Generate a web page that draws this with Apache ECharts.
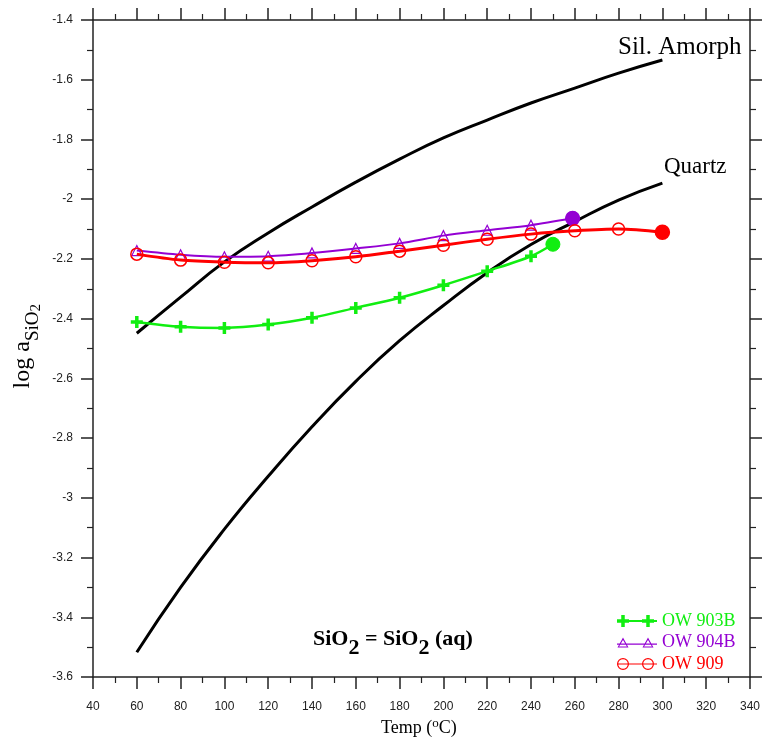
<!DOCTYPE html>
<html><head><meta charset="utf-8">
<script src="https://cdn.jsdelivr.net/npm/echarts@6/dist/echarts.min.js"></script>
<style>html,body{margin:0;padding:0;background:#fff}#c{width:763px;height:738px}</style>
</head><body><div id="c"></div>
<script>
// ---- data ----
var curveTemps = [60, 80, 100, 120, 140, 160, 180, 200, 220, 240, 260, 280, 300];
var silAmorph = [-2.449, -2.328, -2.210, -2.113, -2.026, -1.943, -1.866, -1.795, -1.735, -1.678, -1.628, -1.578, -1.534];
var quartz = [-3.517, -3.300, -3.105, -2.928, -2.762, -2.610, -2.474, -2.356, -2.246, -2.152, -2.075, -2.003, -1.946];

var tempsA = [60, 80, 100, 120, 140, 160, 180, 200, 220, 240];
var ow903b = [-2.411, -2.427, -2.431, -2.420, -2.397, -2.364, -2.330, -2.288, -2.241, -2.191];
var ow903bEnd = [250, -2.151];

var ow904b = [-2.172, -2.186, -2.193, -2.191, -2.180, -2.165, -2.148, -2.122, -2.104, -2.087];
var ow904bEnd = [259, -2.064];

var tempsC = [60, 80, 100, 120, 140, 160, 180, 200, 220, 240, 260, 280];
var ow909 = [-2.184, -2.204, -2.211, -2.213, -2.206, -2.193, -2.174, -2.154, -2.134, -2.117, -2.106, -2.100];
var ow909End = [300, -2.111];

var seriesNames = ['OW 903B', 'OW 904B', 'OW 909'];
var xTicks = {min: 40, max: 340, interval: 20};
var yTicks = {min: -3.6, max: -1.4, interval: 0.2};

// ---- build ----
function pairs(xs, ys) { return xs.map(function (x, i) { return [x, ys[i]]; }); }
function withEnd(xs, ys, end, color) {
  var d = pairs(xs, ys);
  d.push({value: end, symbol: 'circle', symbolSize: 14, itemStyle: {color: color, borderColor: color}});
  return d;
}
var serif = 'Liberation Serif, Times New Roman, serif';
var sans = 'Liberation Sans, Arial, sans-serif';
var green = '#11ee11', purple = '#9400d3', red = '#ff0000';
var clear = 'rgba(255,255,255,0)';
var plusPath = 'path://M4.25,0H7.75V4.25H12V7.75H7.75V12H4.25V7.75H0V4.25H4.25Z';

// legend icons: line with two markers (40 px wide)
function plusAt(cx) {
  return 'M' + (cx - 1.75) + ',0H' + (cx + 1.75) + 'V4.25H' + (cx + 6) + 'V7.75H' + (cx + 1.75) + 'V12H' + (cx - 1.75) + 'V7.75H' + (cx - 6) + 'V4.25H' + (cx - 1.75) + 'Z';
}
function triAt(cx) {
  return 'M' + cx + ',0L' + (cx + 5.5) + ',10L' + (cx - 5.5) + ',10Z' +
         'M' + cx + ',2.4L' + (cx - 3.9) + ',9L' + (cx + 3.9) + ',9Z';
}
function circAt(cx) {
  return 'M' + (cx - 6) + ',6A6,6 0 1,1 ' + (cx + 6) + ',6A6,6 0 1,1 ' + (cx - 6) + ',6Z' +
         'M' + (cx - 4.8) + ',6A4.8,4.8 0 1,0 ' + (cx + 4.8) + ',6A4.8,4.8 0 1,0 ' + (cx - 4.8) + ',6Z';
}
var iconPlus = 'path://M0,5H40V7H0Z' + plusAt(6) + plusAt(31);
var iconTri = 'path://M0,6H40V7.2H0Z' + triAt(6) + triAt(31);
var iconCirc = 'path://M0,5.4H40V6.6H0Z' + circAt(6) + circAt(31);

var axisLine = {show: true, lineStyle: {color: '#222', width: 1.5}};
function xAx(pos, labels) {
  return {
    type: 'value', position: pos, min: xTicks.min, max: xTicks.max, interval: xTicks.interval,
    axisLine: axisLine,
    axisTick: {show: true, inside: false, length: 12, lineStyle: {color: '#222', width: 1.5}},
    minorTick: {show: true, splitNumber: 2, length: 6, lineStyle: {color: '#222', width: 1.2}},
    axisLabel: {show: labels, margin: 24, fontFamily: sans, fontSize: 12, color: '#222'},
    splitLine: {show: false}
  };
}
function yAx(pos, labels) {
  return {
    type: 'value', position: pos, min: yTicks.min, max: yTicks.max, interval: yTicks.interval,
    axisLine: axisLine,
    axisTick: {show: true, inside: false, length: 12, lineStyle: {color: '#222', width: 1.5}},
    minorTick: {show: true, splitNumber: 2, length: 6, lineStyle: {color: '#222', width: 1.2}},
    axisLabel: {show: labels, margin: 20, fontFamily: sans, fontSize: 12, color: '#222',
      formatter: function (v) { return String(Math.round(v * 10) / 10); }},
    splitLine: {show: false}
  };
}

var chart = echarts.init(document.getElementById('c'));
chart.setOption({
  backgroundColor: '#fff',
  animation: false,
  grid: {left: 93, right: 13, top: 20, bottom: 61},
  xAxis: [xAx('bottom', true), xAx('top', false)],
  yAxis: [yAx('left', true), yAx('right', false)],
  legend: {
    left: 612, top: 607, orient: 'vertical', itemGap: 3.5, itemWidth: 40, itemHeight: 12,
    symbolKeepAspect: true,
    data: [
      {name: seriesNames[0], icon: iconPlus, itemStyle: {color: green, borderWidth: 0}, textStyle: {color: green}},
      {name: seriesNames[1], icon: iconTri, itemStyle: {color: purple, borderWidth: 0}, textStyle: {color: purple}},
      {name: seriesNames[2], icon: iconCirc, itemStyle: {color: red, borderWidth: 0}, textStyle: {color: red}}
    ],
    textStyle: {fontFamily: serif, fontSize: 18, padding: [0, 0, 0, 0]}
  },
  series: [
    {name: 'Sil. Amorph', type: 'line', data: pairs(curveTemps, silAmorph), smooth: true, showSymbol: false,
      lineStyle: {color: '#000', width: 3}, z: 1},
    {name: 'Quartz', type: 'line', data: pairs(curveTemps, quartz), smooth: true, showSymbol: false,
      lineStyle: {color: '#000', width: 3}, z: 1},
    {name: seriesNames[0], type: 'line', data: withEnd(tempsA, ow903b, ow903bEnd, green), smooth: 0.3,
      symbol: plusPath, symbolSize: 12, itemStyle: {color: green}, lineStyle: {color: green, width: 2.5}, z: 3},
    {name: seriesNames[1], type: 'line', data: withEnd(tempsA, ow904b, ow904bEnd, purple), smooth: 0.3,
      symbol: 'triangle', symbolSize: 10, itemStyle: {color: clear, borderColor: purple, borderWidth: 1.2},
      lineStyle: {color: purple, width: 2}, z: 3},
    {name: seriesNames[2], type: 'line', data: withEnd(tempsC, ow909, ow909End, red), smooth: 0.3,
      symbol: 'circle', symbolSize: 12, itemStyle: {color: clear, borderColor: red, borderWidth: 1.5},
      lineStyle: {color: red, width: 3}, z: 4}
  ],
  graphic: [
    {type: 'text', left: 618, top: 35, style: {text: 'Sil. Amorph', fontFamily: serif, fontSize: 25, fill: '#000'}},
    {type: 'text', left: 664, top: 155, style: {text: 'Quartz', fontFamily: serif, fontSize: 23, fill: '#000'}},
    {type: 'text', left: 313, top: 628, style: {
      text: '{b|SiO}{s|2}{b| = SiO}{s|2}{b| (aq)}',
      rich: {
        b: {fontFamily: serif, fontSize: 22, fontWeight: 'bold', fill: '#000', verticalAlign: 'bottom', padding: [0, 0, 9, 0]},
        s: {fontFamily: serif, fontSize: 22, fontWeight: 'bold', fill: '#000', verticalAlign: 'bottom'}
      }}},
    {type: 'text', left: 381, top: 717, style: {
      text: '{n|Temp (}{p|o}{n|C)}',
      rich: {
        n: {fontFamily: serif, fontSize: 18, fill: '#000', verticalAlign: 'bottom'},
        p: {fontFamily: serif, fontSize: 13, fill: '#000', verticalAlign: 'bottom', padding: [0, 0, 7, 0]}
      }}},
    {type: 'text', left: 11, top: 304, rotation: Math.PI / 2, style: {
      text: '{n|log a}{s|SiO}{t|2}',
      rich: {
        n: {fontFamily: serif, fontSize: 24, fill: '#000', verticalAlign: 'bottom', padding: [0, 0, 9, 0]},
        s: {fontFamily: serif, fontSize: 19, fill: '#000', verticalAlign: 'bottom', padding: [0, 0, 1, 0]},
        t: {fontFamily: serif, fontSize: 15, fill: '#000', verticalAlign: 'bottom'}
      }}}
  ]
});
</script></body></html>
